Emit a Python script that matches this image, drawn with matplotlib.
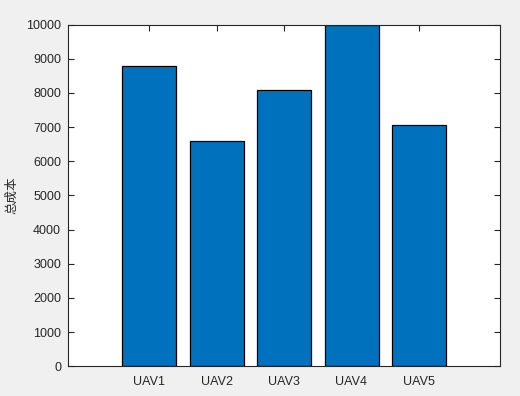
import matplotlib
matplotlib.use("Agg")
import matplotlib.pyplot as plt

categories = ["UAV1", "UAV2", "UAV3", "UAV4", "UAV5"]
total_cost = [8800, 6580, 8070, 10000, 7050]
y_ticks = [0, 1000, 2000, 3000, 4000, 5000, 6000, 7000, 8000, 9000, 10000]

plt.rcParams['font.family'] = ['Liberation Sans', 'DejaVu Sans']
txt = '#262626'

fig = plt.figure(figsize=(5.2, 3.96), dpi=100, facecolor='#f0f0f0')
ax = fig.add_axes([68/520, (396-366.3)/396, 432/520, (366.3-24.5)/396])
ax.set_facecolor('white')

x = list(range(1, len(categories) + 1))
ax.bar(x, total_cost, width=0.8, color='#0072BD', edgecolor='black', linewidth=0.9, zorder=2)

ax.set_xlim(-0.2, 6.2)
ax.set_ylim(0, 10000)
ax.set_xticks(x)
ax.set_xticklabels(categories)
ax.set_yticks(y_ticks)
ax.set_yticklabels([str(v) for v in y_ticks])

for s in ax.spines.values():
    s.set_color(txt)
    s.set_linewidth(0.8)
    s.set_zorder(3)
ax.tick_params(direction='in', length=4, width=0.8, color=txt, labelcolor=txt,
               labelsize=9, top=True, right=True)
ax.tick_params(axis='x', pad=7)
ax.tick_params(axis='y', pad=5)

ax.set_ylabel("总成本", family=['Noto Sans CJK SC', 'DejaVu Sans'], fontsize=9, color=txt)
ax.yaxis.set_label_coords(-0.115, 0.5)

fig.savefig("out.png", dpi=100, facecolor=fig.get_facecolor())
